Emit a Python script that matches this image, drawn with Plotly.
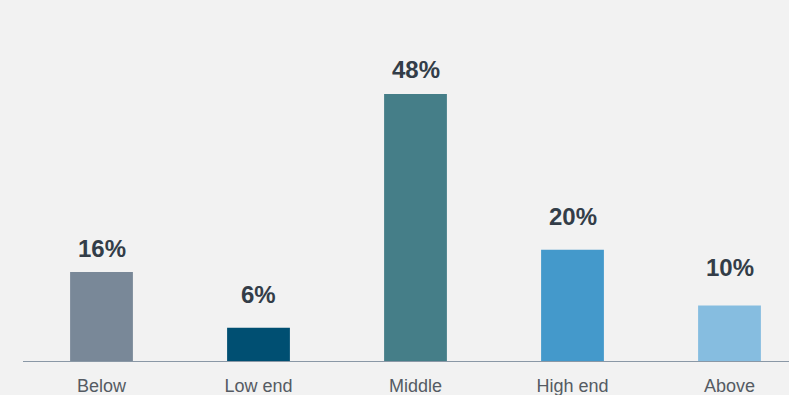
import plotly.graph_objects as go

categories = ["Below", "Low end", "Middle", "High end", "Above"]
values = [16, 6, 48, 20, 10]
labels = ["16%", "6%", "48%", "20%", "10%"]
colors = ["#798898", "#004f72", "#457e88", "#4499cb", "#86bde0"]
label_gaps = [8, 18, 9, 18, 22]  # pixel gap between bar top and label (styling)

fig = go.Figure()
fig.add_trace(go.Bar(
    x=categories, y=values, marker=dict(color=colors, line=dict(width=0)),
    width=0.4, hoverinfo="skip",
))
for c, v, t, g in zip(categories, values, labels, label_gaps):
    fig.add_annotation(x=c, y=v, text="<b>%s</b>" % t, showarrow=False,
                       yanchor="bottom", yshift=g,
                       font=dict(family="Liberation Sans, Arial", size=24, color="#333d48"))

fig.update_layout(
    width=789, height=395,
    margin=dict(l=23, r=0, t=0, b=34),
    paper_bgcolor="#f2f2f2", plot_bgcolor="#f2f2f2",
    showlegend=False,
    font=dict(family="Liberation Sans, Arial", size=18, color="#555b63"),
    xaxis=dict(range=[-0.5, 4.379], showgrid=False, showline=True,
               linecolor="#8a98a6", linewidth=1, ticks="", zeroline=False,
               ticklabelstandoff=8, automargin=False,
               tickfont=dict(size=18, color="#555b63")),
    yaxis=dict(range=[0, 64.9], visible=False, showgrid=False, zeroline=False,
               automargin=False),
)
fig.write_html("out.html", config={"displayModeBar": False},
               post_script="document.body.style.margin='0';document.body.style.background='#f2f2f2';")
